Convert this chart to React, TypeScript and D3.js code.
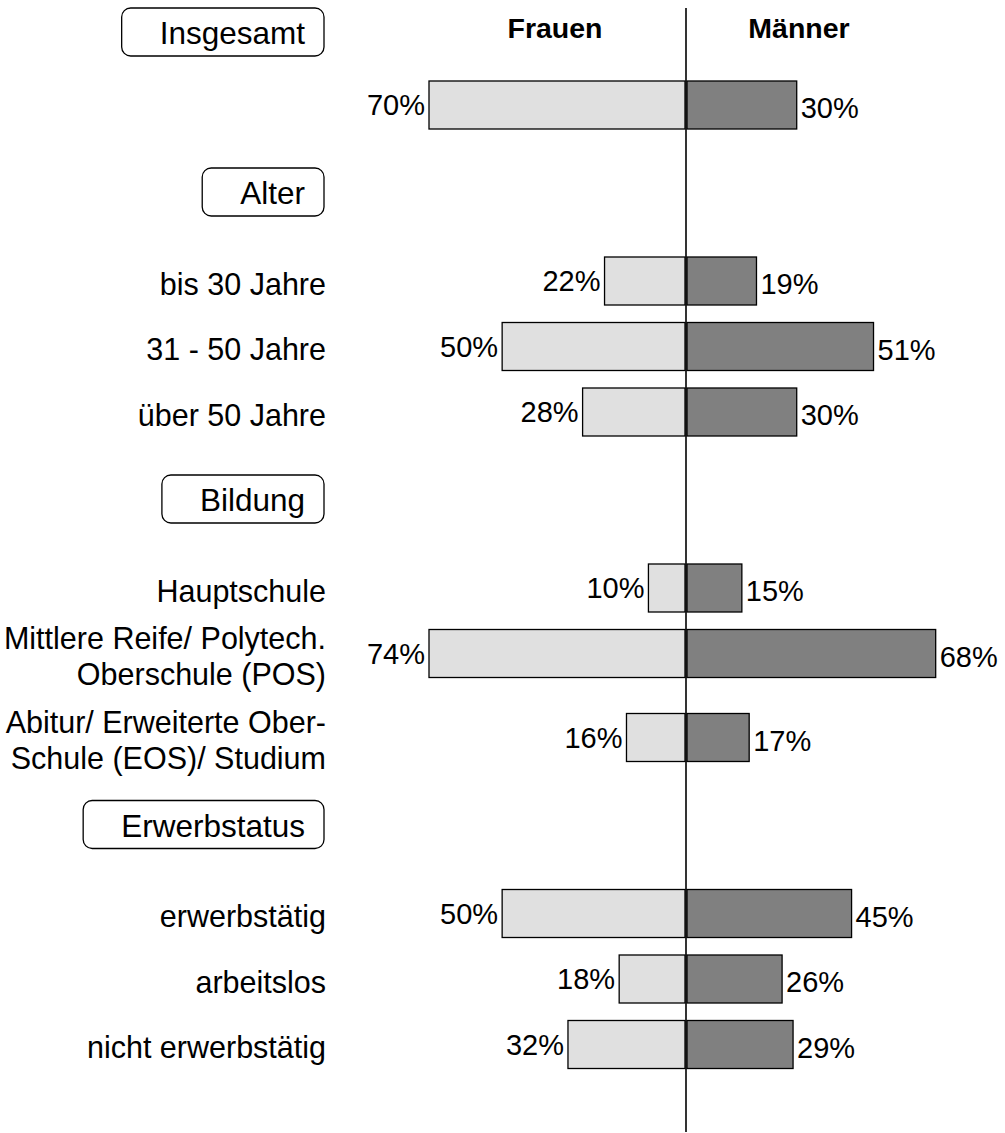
// App.tsx
import React, { useEffect, useRef } from 'react';
import * as d3 from 'd3';

const groupTitles = ['Insgesamt', 'Alter', 'Bildung', 'Erwerbstatus'];
const rowGroup = [0, 1, 1, 1, 2, 2, 2, 3, 3, 3];
const rowLabels: string[][] = [
    [],
    ['bis 30 Jahre'],
    ['31 - 50 Jahre'],
    ['über 50 Jahre'],
    ['Hauptschule'],
    ['Mittlere Reife/ Polytech.', 'Oberschule (POS)'],
    ['Abitur/ Erweiterte Ober-', 'Schule (EOS)/ Studium'],
    ['erwerbstätig'],
    ['arbeitslos'],
    ['nicht erwerbstätig']
];
const frauen = [70, 22, 50, 28, 10, 74, 16, 50, 18, 32];
const maenner = [30, 19, 51, 30, 15, 68, 17, 45, 26, 29];
const sideLabels = ['Frauen', 'Männer'];

const FONT = '"Liberation Sans", Arial, Helvetica, sans-serif';

const App: React.FC = () => {
    const svgRef = useRef<SVGSVGElement | null>(null);

    useEffect(() => {
        drawChart();
    }, []);

    const drawChart = () => {
        const width = 1005;
        const height = 1133;
        const centre = 686;
        const barH = 48;
        const boxH = 48;

        const svg = d3.select(svgRef.current);
        svg.selectAll('*').remove();
        svg.attr('width', width).attr('height', height);

        // both sides run out to 70%, longer bars get cut at the edge (as in the original)
        const xF = d3.scaleLinear().domain([0, 70]).range([centre - 1, 429]).clamp(true);
        const xM = d3.scaleLinear().domain([0, 70]).range([centre + 1, 943]).clamp(true);

        // walk down the page: group box, then its rows
        const boxes: { title: string; y: number }[] = [];
        const barTops: number[] = [];
        let prevBar = 0;
        rowGroup.forEach((g, i) => {
            let top: number;
            if (i === 0 || g !== rowGroup[i - 1]) {
                const boxTop = i === 0 ? 8 : prevBar + 87;
                boxes.push({ title: groupTitles[g], y: boxTop });
                // an unlabelled row (Insgesamt) sits tighter under its box
                top = boxTop + (rowLabels[i].length ? 89 : 73);
            } else {
                top = prevBar + 65.5 + (rowLabels[i - 1].length > 1 ? 18.5 : 0);
            }
            barTops.push(top);
            prevBar = top;
        });

        const rows = frauen.map((f, i) => ({ f, m: maenner[i], label: rowLabels[i], top: barTops[i] }));

        // column headers
        svg.selectAll('.side')
            .data(sideLabels)
            .enter().append('text')
            .attr('x', (d, i) => (i === 0 ? 555 : 799))
            .attr('y', 38)
            .attr('text-anchor', 'middle')
            .attr('font-family', FONT)
            .attr('font-weight', 'bold')
            .attr('font-size', 28.5)
            .text(d => d);

        // group boxes
        const boxG = svg.selectAll('.box')
            .data(boxes)
            .enter().append('g')
            .attr('class', 'box');

        const boxRect = boxG.append('rect')
            .attr('y', d => d.y)
            .attr('height', boxH)
            .attr('rx', 9)
            .attr('fill', '#fff')
            .attr('stroke', '#000')
            .attr('stroke-width', 1.3);

        const boxText = boxG.append('text')
            .attr('x', 305)
            .attr('y', d => d.y + boxH / 2 + 1)
            .attr('dy', '0.35em')
            .attr('text-anchor', 'end')
            .attr('font-family', FONT)
            .attr('font-size', 31.5)
            .text(d => d.title);

        boxText.each(function (d, i) {
            const w = (this as SVGTextElement).getComputedTextLength();
            d3.select(boxRect.nodes()[i]).attr('x', 305 - w - 38).attr('width', w + 38 + 19);
        });

        // category labels
        rows.forEach(r => {
            const n = r.label.length;
            r.label.forEach((line, j) => {
                svg.append('text')
                    .attr('x', 326)
                    .attr('y', r.top + barH / 2 + (j - (n - 1) / 2) * 36 + 3)
                    .attr('dy', '0.35em')
                    .attr('text-anchor', 'end')
                    .attr('font-family', FONT)
                    .attr('font-size', 30.5)
                    .text(line);
            });
        });

        // women bars
        svg.selectAll('.barF')
            .data(rows)
            .enter().append('rect')
            .attr('class', 'barF')
            .attr('x', d => xF(d.f))
            .attr('y', d => d.top)
            .attr('width', d => xF(0) - xF(d.f))
            .attr('height', barH)
            .attr('fill', '#e0e0e0')
            .attr('stroke', '#000')
            .attr('stroke-width', 1.3);

        // men bars
        svg.selectAll('.barM')
            .data(rows)
            .enter().append('rect')
            .attr('class', 'barM')
            .attr('x', xM(0))
            .attr('y', d => d.top)
            .attr('width', d => xM(d.m) - xM(0))
            .attr('height', barH)
            .attr('fill', '#808080')
            .attr('stroke', '#000')
            .attr('stroke-width', 1.3);

        // value labels
        svg.selectAll('.valF')
            .data(rows)
            .enter().append('text')
            .attr('x', d => xF(d.f) - 4)
            .attr('y', d => d.top + barH / 2)
            .attr('dy', '0.35em')
            .attr('text-anchor', 'end')
            .attr('font-family', FONT)
            .attr('font-size', 29)
            .text(d => `${d.f}%`);

        svg.selectAll('.valM')
            .data(rows)
            .enter().append('text')
            .attr('x', d => xM(d.m) + 4)
            .attr('y', d => d.top + barH / 2 + 3)
            .attr('dy', '0.35em')
            .attr('text-anchor', 'start')
            .attr('font-family', FONT)
            .attr('font-size', 29)
            .text(d => `${d.m}%`);

        // centre line
        svg.append('line')
            .attr('x1', centre).attr('x2', centre)
            .attr('y1', 8).attr('y2', 1132)
            .attr('stroke', '#000')
            .attr('stroke-width', 1.6);
    };

    return (
        <svg ref={svgRef} style={{ position: 'absolute', left: 0, top: 0, background: '#fff' }}></svg>
    );
};

export default App;
